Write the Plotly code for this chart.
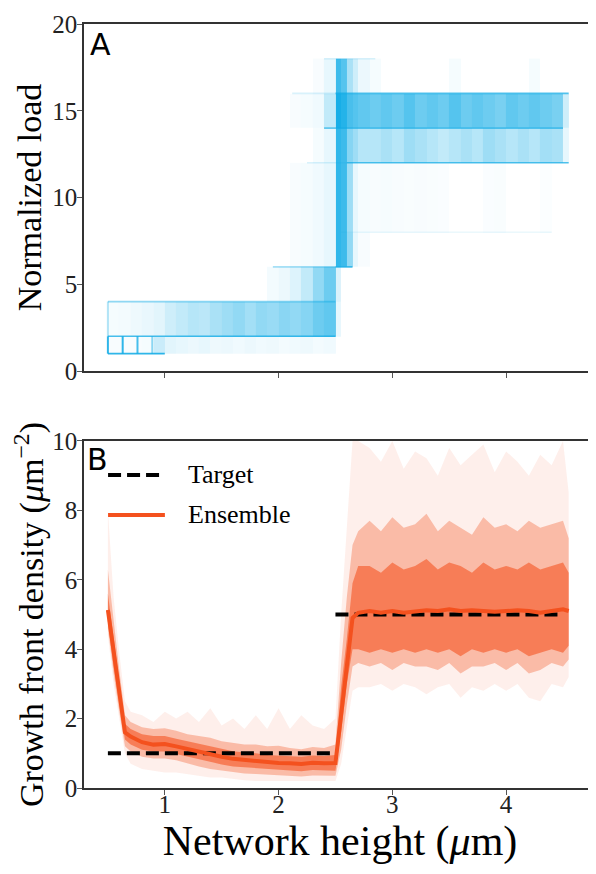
import plotly.graph_objects as go

# ---------------- Panel A data: normalized load (density of step traces) ----------------
load_x_edges = [0.5, 0.6, 0.7, 0.8, 0.9, 1.0, 1.1, 1.2, 1.3, 1.4, 1.5, 1.6, 1.7, 1.8, 1.9, 2.0,
                2.1, 2.2, 2.3, 2.4, 2.5, 2.55, 2.6, 2.65, 2.7, 2.8, 2.9, 3.0, 3.1, 3.2, 3.3, 3.4,
                3.5, 3.6, 3.7, 3.8, 3.9, 4.0, 4.1, 4.2, 4.3, 4.4, 4.5, 4.55]
load_levels = [1, 2, 4, 6, 8, 12, 14, 16, 18]
N = None
dens_1_2 = [0.03, 0.03, 0.03, 0.04, 0.22, 0.12, 0.1, 0.08, 0.1, 0.07, 0.08, 0.06, 0.08, 0.06, 0.07,
            0.05, 0.06, 0.07, 0.05, 0.06, N, N, N, N, N, N, N, N, N, N, N, N, N, N, N, N, N, N, N, N, N, N, N]
dens_2_4 = [0.04, 0.05, 0.07, 0.09, 0.12, 0.2, 0.25, 0.3, 0.28, 0.35, 0.4, 0.45, 0.38, 0.45, 0.42,
            0.48, 0.45, 0.5, 0.6, 0.65, 0.1, N, N, N, N, N, N, N, N, N, N, N, N, N, N, N, N, N, N, N, N, N, N]
dens_4_6 = [N, N, N, N, N, N, N, N, N, N, N, N, N, N, 0.05,
            0.08, 0.14, 0.25, 0.45, 0.6, 0.15, N, N, N, N, N, N, N, N, N, N, N, N, N, N, N, N, N, N, N, N, N, N]
dens_6_8 = [N, N, N, N, N, N, N, N, N, N, N, N, N, N, N,
            N, 0.03, 0.04, 0.06, 0.1, 0.85, 0.8, 0.45, 0.1, 0.03, N, N, N, N, N, N, N, N, N, N, N, N, N, N, N, N, N, N]
dens_8_12 = [N, N, N, N, N, N, N, N, N, N, N, N, N, N, N,
             N, 0.03, 0.04, 0.06, 0.1, 0.85, 0.8, 0.4, 0.1, 0.04, 0.03, 0.035, 0.03, 0.025, 0.03, 0.025, 0.02,
             N, N, N, 0.02, 0.025, N, N, N, 0.015, N, N]
dens_12_14 = [N, N, N, N, N, N, N, N, N, N, N, N, N, N, N,
              N, N, N, 0.04, 0.1, 0.85, 0.8, 0.5, 0.4, 0.3, 0.3, 0.35, 0.3, 0.4, 0.35, 0.3, 0.25,
              0.3, 0.35, 0.3, 0.4, 0.35, 0.3, 0.35, 0.3, 0.38, 0.35, 0.1]
dens_14_16 = [N, N, N, N, N, N, N, N, N, N, N, N, N, N, N,
              N, 0.03, 0.04, 0.06, 0.25, 0.95, 0.9, 0.75, 0.7, 0.65, 0.6, 0.65, 0.6, 0.7, 0.6, 0.65, 0.6,
              0.7, 0.6, 0.65, 0.6, 0.55, 0.65, 0.6, 0.65, 0.6, 0.55, 0.2]
dens_16_18 = [N, N, N, N, N, N, N, N, N, N, N, N, N, N, N,
              N, N, N, 0.03, 0.1, 0.8, 0.7, 0.35, 0.2, 0.08, 0.04, N, N, N, N, N, N,
              0.04, N, N, N, N, N, N, 0.04, N, N, N]

# step-trace edges: (level, x start, x end, strength)
load_edge_level = [1, 2, 4, 6, 6, 8, 12, 12, 14, 16, 16, 18]
load_edge_x0 = [0.5, 0.5, 0.5, 1.95, 2.5, 2.55, 2.25, 2.6, 2.4, 2.12, 2.5, 2.4]
load_edge_x1 = [1.0, 2.5, 2.5, 2.5, 2.65, 4.4, 2.6, 4.55, 4.5, 2.5, 4.55, 2.85]
load_edge_alpha = [0.85, 0.75, 0.45, 0.35, 0.8, 0.08, 0.15, 0.7, 0.6, 0.15, 0.7, 0.15]
# vertical strokes: (x, y low, y high, strength)
load_vert_x = [0.5, 0.5, 0.63, 0.76, 0.89]
load_vert_y0 = [1, 2, 1, 1, 1]
load_vert_y1 = [2, 4, 2, 2, 2]
load_vert_alpha = [0.85, 0.3, 0.85, 0.75, 0.45]

# ---------------- Panel B data: growth front density ----------------
dens_x = [0.5, 0.55, 0.6, 0.65, 0.7, 0.8, 0.9, 1.0, 1.1, 1.2, 1.3, 1.4, 1.5, 1.6, 1.7, 1.8, 1.9, 2.0,
          2.1, 2.2, 2.3, 2.4, 2.5, 2.55, 2.6, 2.65, 2.7, 2.8, 2.9, 3.0, 3.1, 3.2, 3.3, 3.4, 3.5, 3.6,
          3.7, 3.8, 3.9, 4.0, 4.1, 4.2, 4.3, 4.4, 4.5, 4.55]
ensemble_mean = [5.13, 3.9, 2.7, 1.6, 1.48, 1.32, 1.25, 1.27, 1.2, 1.12, 1.04, 0.97, 0.9, 0.84, 0.81, 0.78,
                 0.74, 0.72, 0.71, 0.69, 0.73, 0.71, 0.72, 2.2, 3.6, 4.9, 5.05, 5.1, 5.05, 5.1, 5.05,
                 5.08, 5.12, 5.1, 5.15, 5.1, 5.12, 5.1, 5.08, 5.1, 5.12, 5.1, 5.05, 5.1, 5.15, 5.1]
inner_lo = [4.8, 3.5, 2.4, 1.4, 1.25, 1.1, 1.05, 1.05, 0.98, 0.9, 0.82, 0.75, 0.68, 0.62, 0.6, 0.57,
            0.54, 0.52, 0.5, 0.48, 0.52, 0.5, 0.5, 1.6, 3.0, 4.0, 4.0, 3.9, 4.0, 3.9, 4.0,
            3.9, 4.0, 3.9, 4.0, 3.8, 4.0, 3.9, 4.0, 3.9, 4.0, 3.8, 3.9, 4.0, 3.9, 4.1]
inner_hi = [5.6, 4.3, 3.0, 1.85, 1.7, 1.55, 1.5, 1.5, 1.42, 1.35, 1.28, 1.2, 1.12, 1.06, 1.02, 1.0,
            0.95, 0.93, 0.92, 0.9, 0.94, 0.92, 0.95, 2.9, 4.3, 5.9, 6.4, 6.4, 6.2, 6.5, 6.3,
            6.4, 6.6, 6.3, 6.5, 6.4, 6.2, 6.5, 6.3, 6.4, 6.3, 6.5, 6.3, 6.4, 6.5, 6.2]
mid_lo = [4.6, 3.3, 2.2, 1.2, 1.05, 0.9, 0.85, 0.85, 0.8, 0.7, 0.62, 0.55, 0.5, 0.45, 0.42, 0.4,
          0.38, 0.36, 0.35, 0.33, 0.36, 0.35, 0.35, 1.1, 2.4, 3.5, 3.6, 3.5, 3.6, 3.4, 3.6,
          3.5, 3.5, 3.4, 3.6, 3.3, 3.5, 3.5, 3.6, 3.4, 3.6, 3.3, 3.4, 3.6, 3.5, 3.7]
mid_hi = [6.3, 4.8, 3.4, 2.1, 1.9, 1.75, 1.7, 1.72, 1.65, 1.55, 1.5, 1.45, 1.35, 1.3, 1.25, 1.25,
          1.2, 1.22, 1.15, 1.12, 1.18, 1.15, 1.25, 3.6, 5.5, 7.0, 7.4, 7.7, 7.4, 7.8, 7.5,
          7.6, 7.9, 7.4, 7.7, 7.5, 7.3, 7.8, 7.5, 7.6, 7.4, 7.7, 7.5, 7.6, 7.7, 7.2]
outer_lo = [4.4, 3.0, 2.0, 1.0, 0.7, 0.55, 0.5, 0.45, 0.45, 0.4, 0.35, 0.3, 0.3, 0.25, 0.22, 0.2,
            0.2, 0.18, 0.2, 0.18, 0.2, 0.2, 0.2, 0.7, 1.8, 2.8, 2.9, 2.9, 3.0, 2.8, 3.0,
            2.9, 2.7, 2.9, 3.0, 2.6, 2.9, 2.8, 3.0, 2.8, 3.0, 2.6, 2.5, 3.0, 2.9, 3.2]
outer_hi = [8.0, 5.5, 3.9, 2.5, 2.2, 2.1, 1.9, 2.2, 2.0, 2.2, 1.9, 2.3, 1.8, 2.0, 1.7, 2.1,
            1.7, 2.3, 1.7, 2.1, 1.8, 1.7, 2.0, 5.0, 7.5, 10.0, 10.0, 9.8, 9.4, 10.0, 9.2,
            9.7, 9.5, 9.0, 9.8, 9.3, 9.6, 9.9, 9.1, 9.7, 9.4, 9.0, 9.6, 9.3, 10.0, 8.5]
target_level = [1, 5]
target_x0 = [0.5, 2.5]
target_x1 = [2.5, 4.5]

x_ticks = [1, 2, 3, 4]
yA_ticks = [0, 5, 10, 15, 20]
yB_ticks = [0, 2, 4, 6, 8, 10]

BLUE = "rgb(12,170,230)"
ORANGE = "rgb(244,81,30)"
SERIF = "Liberation Serif"

fig = go.Figure()

# ---- Panel A ----
z = [dens_1_2, dens_2_4, dens_4_6, dens_6_8, dens_8_12, dens_12_14, dens_14_16, dens_16_18]
fig.add_trace(go.Heatmap(x=load_x_edges, y=load_levels, z=z, zmin=0, zmax=1,
                         colorscale=[[0, "#ffffff"], [1, BLUE]], showscale=False,
                         hoverinfo="skip", xaxis="x", yaxis="y"))
for lv, a, b, al in zip(load_edge_level, load_edge_x0, load_edge_x1, load_edge_alpha):
    fig.add_trace(go.Scatter(x=[a, b], y=[lv, lv], mode="lines", opacity=al,
                             line=dict(color=BLUE, width=1.6), showlegend=False,
                             hoverinfo="skip", xaxis="x", yaxis="y"))
for xv, a, b, al in zip(load_vert_x, load_vert_y0, load_vert_y1, load_vert_alpha):
    fig.add_trace(go.Scatter(x=[xv, xv], y=[a, b], mode="lines", opacity=al,
                             line=dict(color=BLUE, width=2), showlegend=False,
                             hoverinfo="skip", xaxis="x", yaxis="y"))

# ---- Panel B ----
def band(lo, hi, alpha):
    fig.add_trace(go.Scatter(x=dens_x, y=lo, mode="lines", line=dict(width=0),
                             showlegend=False, hoverinfo="skip", xaxis="x2", yaxis="y2"))
    fig.add_trace(go.Scatter(x=dens_x, y=hi, mode="lines", line=dict(width=0),
                             fill="tonexty", fillcolor=f"rgba(244,81,30,{alpha})",
                             showlegend=False, hoverinfo="skip", xaxis="x2", yaxis="y2"))

band(outer_lo, outer_hi, 0.09)
band(mid_lo, mid_hi, 0.33)
band(inner_lo, inner_hi, 0.58)

for lv, a, b in zip(target_level, target_x0, target_x1):
    fig.add_trace(go.Scatter(x=[a, b], y=[lv, lv], mode="lines",
                             line=dict(color="black", width=4, dash="13px,6px"),
                             showlegend=False, hoverinfo="skip", xaxis="x2", yaxis="y2"))
fig.add_trace(go.Scatter(x=dens_x, y=ensemble_mean, mode="lines",
                         line=dict(color=ORANGE, width=4), showlegend=False,
                         hoverinfo="skip", xaxis="x2", yaxis="y2"))

# manual legend (matching the long line samples)
fig.add_shape(type="line", xref="x2 domain", yref="y2 domain", x0=0.047, x1=0.158, y0=0.902, y1=0.902,
              line=dict(color="black", width=4, dash="13px,6px"))
fig.add_shape(type="line", xref="x2 domain", yref="y2 domain", x0=0.047, x1=0.158, y0=0.787, y1=0.787,
              line=dict(color=ORANGE, width=4))
fig.add_annotation(text="Target", xref="x2 domain", yref="y2 domain", x=0.2, y=0.902,
                   xanchor="left", yanchor="middle", showarrow=False,
                   font=dict(family=SERIF, size=26, color="black"))
fig.add_annotation(text="Ensemble", xref="x2 domain", yref="y2 domain", x=0.2, y=0.787,
                   xanchor="left", yanchor="middle", showarrow=False,
                   font=dict(family=SERIF, size=26, color="black"))

# panel labels
fig.add_annotation(text="A", xref="x domain", yref="y domain", x=0.008, y=0.94,
                   xanchor="left", yanchor="middle", showarrow=False,
                   font=dict(family="DejaVu Sans", size=30, color="black"))
fig.add_annotation(text="B", xref="x2 domain", yref="y2 domain", x=0.002, y=0.947,
                   xanchor="left", yanchor="middle", showarrow=False,
                   font=dict(family="DejaVu Sans", size=30, color="black"))

axis_common = dict(showgrid=False, zeroline=False, showline=True, linecolor="#333333", linewidth=1.5,
                   ticks="outside", ticklen=5, tickwidth=1.2, tickcolor="#555555",
                   tickfont=dict(family=SERIF, size=25, color="#222222"))

# the page body adds an 8px offset, so the figure is 8px smaller in each direction
fig.update_layout(
    width=588, height=866,
    margin=dict(l=76, r=0, t=16, b=86),
    paper_bgcolor="white", plot_bgcolor="white",
    showlegend=False,
    xaxis=dict(domain=[0, 1], anchor="y", range=[0.29, 4.79], tickvals=x_ticks, showticklabels=False,
               mirror=True, matches="x2", **axis_common),
    yaxis=dict(domain=[0.5458, 1], anchor="x", range=[0, 20], tickvals=yA_ticks, ticklabelstandoff=-5,
               title=dict(text="Normalized load", font=dict(family=SERIF, size=34, color="black"), standoff=0),
               **axis_common),
    xaxis2=dict(domain=[0, 1], anchor="y2", range=[0.29, 4.79], tickvals=x_ticks, mirror=True,
                ticklabelstandoff=-12,
                title=dict(text="Network height (<i>μ</i>m)", font=dict(family=SERIF, size=42, color="black"),
                           standoff=6),
                **axis_common),
    yaxis2=dict(domain=[0, 0.4542], anchor="x2", range=[0, 10], tickvals=yB_ticks, ticklabelstandoff=-5,
                title=dict(text="Growth front density (<i>μ</i>m<sup>−2</sup>)",
                           font=dict(family=SERIF, size=34, color="black"), standoff=1),
                **axis_common),
)

fig.write_html("out.html")
